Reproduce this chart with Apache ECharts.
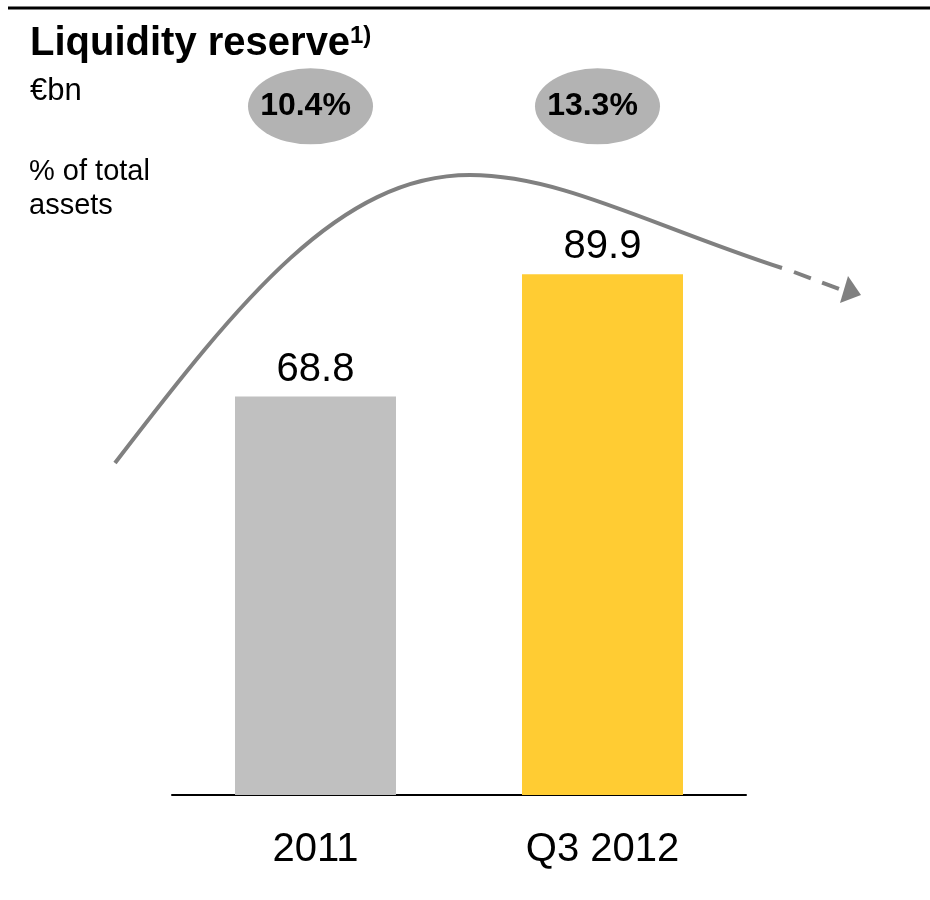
<!DOCTYPE html>
<html lang="en">
<head>
<meta charset="UTF-8" />
<title>Liquidity reserve</title>
<script src="https://cdn.jsdelivr.net/npm/echarts@6.0.0/dist/echarts.min.js"></script>
<style>
  html, body { margin: 0; padding: 0; background: #fff; }
  #lienzo { width: 930px; height: 900px; }
</style>
</head>
<body>
<div id="lienzo"></div>
<script>
// data
const categories = ['2011', 'Q3 2012'];
const reserve = [68.8, 89.9];          // €bn
const shareOfAssets = ['10.4%', '13.3%'];
const barColors = ['#c0c0c0', '#ffcc33'];

const font = '"Liberation Sans", Arial, sans-serif';
const grey = '#808080';

let chart = echarts.init(document.getElementById('lienzo'));

chart.setOption({
    animation: false,
    textStyle: { fontFamily: font },
    grid: { left: 172, right: 184, top: 42, bottom: 105 },
    xAxis: {
        type: 'category',
        data: categories,
        axisLine: { lineStyle: { color: '#000', width: 2 } },
        axisTick: { show: false },
        axisLabel: { color: '#000', fontSize: 40, margin: 35, fontFamily: font }
    },
    yAxis: { type: 'value', min: 0, max: 130, show: false },
    series: [
        {
            type: 'bar',
            barWidth: 161,
            data: reserve.map((v, i) => ({ value: v, itemStyle: { color: barColors[i] } })),
            label: {
                show: true, position: 'top', distance: 7,
                color: '#000', fontSize: 40, fontFamily: font,
                formatter: (p) => p.value.toFixed(1)
            }
        },
        {
            // bubbles with share of total assets
            type: 'scatter',
            clip: false,
            symbol: 'circle',
            symbolSize: [125, 76],
            symbolOffset: [-5, 0],
            itemStyle: { color: '#b3b3b3', opacity: 1 },
            data: shareOfAssets.map((s, i) => [categories[i], 118.9]),
            label: {
                show: true, position: 'inside', offset: [-5, 0],
                color: '#000', fontSize: 32, fontWeight: 'bold', fontFamily: font,
                formatter: (p) => shareOfAssets[p.dataIndex]
            },
            z: 3
        }
    ],
    graphic: [
        { type: 'line', shape: { x1: 8, y1: 8, x2: 930, y2: 8 }, style: { stroke: '#000', lineWidth: 3 } },
        { type: 'text', left: 30, top: 24, style: { text: 'Liquidity reserve', font: 'bold 40px ' + font, fill: '#000' } },
        { type: 'text', left: 350, top: 24, style: { text: '1)', font: 'bold 24px ' + font, fill: '#000' } },
        { type: 'text', left: 30, top: 76, style: { text: '€bn', font: '31px ' + font, fill: '#000' } },
        { type: 'text', left: 29, top: 155, style: { text: '% of total\nassets', font: '29px ' + font, lineHeight: 34, fill: '#000' } },
        // trend curve
        {
            type: 'bezierCurve',
            shape: { x1: 115, y1: 463, cpx1: 240, cpy1: 300, cpx2: 340, cpy2: 175, x2: 470, y2: 175 },
            style: { stroke: grey, lineWidth: 4, fill: null }
        },
        {
            type: 'bezierCurve',
            shape: { x1: 470, y1: 175, cpx1: 560, cpy1: 175, cpx2: 650, cpy2: 225, x2: 782, y2: 268 },
            style: { stroke: grey, lineWidth: 4, fill: null }
        },
        {
            type: 'line',
            shape: { x1: 794, y1: 272, x2: 842, y2: 290 },
            style: { stroke: grey, lineWidth: 4, lineDash: [18, 12] }
        },
        {
            type: 'polygon',
            shape: { points: [[861, 295], [848, 276], [840, 303]] },
            style: { fill: grey }
        }
    ]
});
</script>
</body>
</html>
